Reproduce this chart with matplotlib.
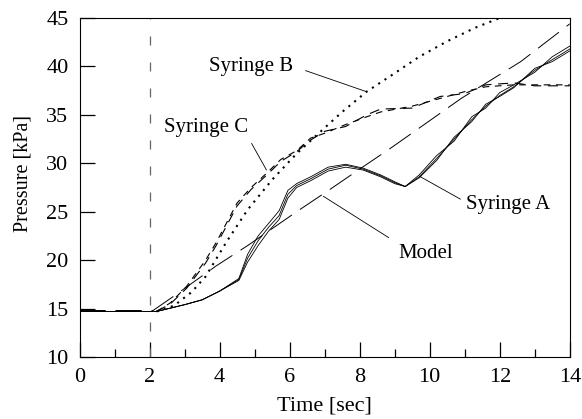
import matplotlib.pyplot as plt
from matplotlib.ticker import MultipleLocator

plt.rcParams["font.family"] = ["Liberation Serif", "DejaVu Serif"]

# Syringe A (three solid traces)
time_a = [0, 2.2, 3.0, 3.5, 4.0, 4.55, 4.8, 5.1, 5.4, 5.7, 5.95, 6.2, 6.6, 7.1, 7.6,
          8.1, 8.6, 9.0, 9.3, 9.7, 10.2, 10.7, 11.2, 11.6, 12.0, 12.4, 13.0, 13.5, 14.0]
a1 = [14.7, 14.7, 15.4, 15.9, 16.8, 18.0, 20.2, 22.0, 23.4, 24.6, 26.8, 27.7, 28.4, 29.4, 29.8,
      29.4, 28.7, 28.0, 27.6, 28.6, 30.5, 32.5, 34.5, 35.9, 37.0, 37.9, 39.6, 40.7, 41.8]
a2 = [14.7, 14.7, 15.4, 15.9, 16.8, 18.1, 20.6, 22.5, 23.8, 25.1, 27.2, 27.9, 28.6, 29.6, 29.9,
      29.5, 28.8, 28.1, 27.6, 28.8, 30.8, 32.3, 34.8, 35.7, 37.3, 38.1, 39.4, 41.0, 42.1]
a3 = [14.7, 14.7, 15.4, 15.9, 16.8, 17.9, 19.8, 21.5, 23.0, 24.2, 26.4, 27.5, 28.2, 29.2, 29.6,
      29.3, 28.6, 27.9, 27.6, 28.5, 30.3, 32.7, 34.3, 36.1, 36.9, 37.8, 39.8, 40.5, 41.6]

# Syringe B (dotted)
time_b = [2.2, 2.7, 3.2, 3.6, 4.2, 4.8, 5.5, 6.2, 6.8, 7.5, 8.2, 9.0, 9.7, 10.5, 11.3, 12.0]
b = [14.7, 15.3, 16.7, 18.3, 21.9, 25.2, 28.3, 31.0, 33.0, 35.3, 37.4, 39.3, 41.0, 42.6, 44.0, 45.0]

# Syringe C (dashed traces)
time_c = [2.2, 2.6, 3.06, 3.6, 3.9, 4.5, 4.9, 5.35, 5.75, 6.2, 6.6, 7.0, 7.6, 8.2, 8.6,
          9.5, 10.3, 11.0, 11.6, 12.4, 13.0, 14.0]
c1 = [14.7, 15.6, 17.3, 20.0, 21.8, 25.9, 27.5, 29.0, 30.4, 31.3, 32.6, 33.1, 34.0, 34.8, 35.3,
      35.9, 36.7, 37.4, 37.9, 38.1, 38.1, 38.1]
c2 = [14.7, 15.5, 17.1, 19.7, 21.5, 25.6, 27.3, 28.8, 30.2, 31.2, 32.4, 33.3, 33.8, 35.0, 35.6,
      35.7, 36.9, 37.2, 38.1, 38.3, 38.0, 38.0]

# Model (long dashes)
time_m = [0, 2.1, 2.7, 3.9, 4.8, 6.2, 7.15, 8.0, 8.9, 10.0, 10.9, 12.6, 14.0]
m = [14.8, 14.8, 16.3, 19.4, 21.5, 25.0, 27.3, 29.4, 31.6, 34.4, 36.7, 40.5, 44.4]

fig = plt.figure(figsize=(5.82, 4.19), dpi=100)
ax = fig.add_axes([0.1366, 0.148, 0.8424, 0.809])

ax.axvline(2, color="0.4", lw=0.9, dashes=(7.2, 13.6))

ax.plot(time_m, m, color="black", lw=0.7, dashes=(27, 10))
for tr in (a1, a2, a3):
    ax.plot(time_a, tr, color="black", lw=0.6)
ax.plot(time_b, b, color="black", lw=1.5, dashes=(1, 2.6))
ax.plot(time_c, c1, color="black", lw=0.8, dashes=(6, 5))
ax.plot(time_c, c2, color="black", lw=0.8, dashes=(9, 6))

fs = 15
line = dict(arrowstyle="-", color="black", lw=0.6, shrinkB=0)
ax.annotate("Syringe B", xy=(8.19, 37.4), xytext=(4.91, 40.0), fontsize=fs,
            ha="center", va="center",
            arrowprops=dict(line, shrinkA=7, relpos=(1.0, 0.5)))
ax.annotate("Syringe C", xy=(5.34, 29.3), xytext=(3.61, 33.7), fontsize=fs,
            ha="center", va="center",
            arrowprops=dict(line, shrinkA=3, relpos=(1.0, 0.0)))
ax.annotate("Syringe A", xy=(9.71, 28.66), xytext=(12.23, 25.7), fontsize=fs,
            ha="center", va="center",
            arrowprops=dict(line, shrinkA=2, relpos=(0.0, 0.65)))
ax.annotate("Model", xy=(6.96, 26.6), xytext=(9.89, 20.7), fontsize=fs,
            ha="center", va="center",
            arrowprops=dict(line, shrinkA=6, relpos=(0.0, 1.0)))

ax.set_xlim(0, 14)
ax.set_ylim(10, 45)
ax.xaxis.set_major_locator(MultipleLocator(2))
ax.xaxis.set_minor_locator(MultipleLocator(1))
ax.yaxis.set_major_locator(MultipleLocator(5))
ax.tick_params(which="major", direction="in", length=11, width=0.9, labelsize=16, pad=8)
ax.tick_params(which="minor", direction="in", length=6, width=0.9)
ax.set_xlabel("Time [sec]", fontsize=16)
ax.set_ylabel("Pressure [kPa]", fontsize=14.5)
ax.xaxis.set_label_coords(0.5, -0.118)
ax.yaxis.set_label_coords(-0.095, 0.54)

fig.savefig("out.png", dpi=100)
